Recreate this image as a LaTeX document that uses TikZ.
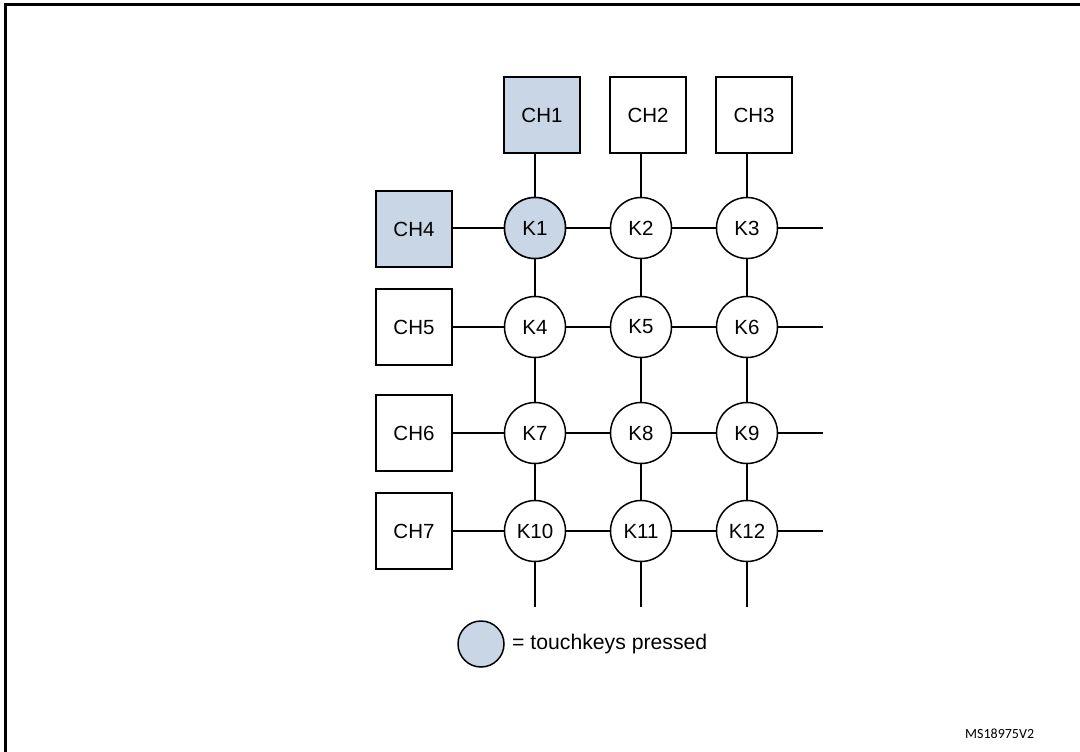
\documentclass[tikz,border=0pt]{standalone}
\usepackage{fontspec}
\setmainfont{Liberation Sans}
\newfontfamily\calib{Carlito}
\definecolor{pressed}{RGB}{201,214,230}
\begin{document}
\begin{tikzpicture}[x=1pt,y=-1pt,
  chbox/.style={draw, line width=1.5pt, minimum size=76pt, inner sep=0pt, font=\fontsize{20.5}{24}\selectfont},
  key/.style={draw, circle, line width=1.5pt, minimum size=61pt, inner sep=0pt, font=\fontsize{20.5}{24}\selectfont},
  wire/.style={line width=1.5pt},
  on/.style={fill=pressed}]
\useasboundingbox (0,0) rectangle (1080,752);
\draw[line width=2.4pt] (5.5,752) -- (5.5,4.5) -- (1080,4.5);
% channel boxes
\node[chbox,on] (CH1) at (542,115) {CH1};
\node[chbox] (CH2) at (648,115) {CH2};
\node[chbox] (CH3) at (754,115) {CH3};
\node[chbox,on] (CH4) at (414,229) {CH4};
\node[chbox] (CH5) at (414,327) {CH5};
\node[chbox] (CH6) at (414,433) {CH6};
\node[chbox] (CH7) at (414,531) {CH7};
% keys
\foreach \r/\y in {0/228,1/327,2/433,3/531}{
  \foreach \c/\x in {1/535,2/641,3/747}{
    \pgfmathtruncatemacro{\k}{3*\r+\c}
    \node[key] (K\k) at (\x,\y) {K\k};
  }
}
\node[key,on] at (K1) {K1};
% stubs
\coordinate (r1) at (823,228);
\coordinate (r2) at (823,327);
\coordinate (r3) at (823,433);
\coordinate (r4) at (823,531);
\coordinate (b1) at (535,607);
\coordinate (b2) at (641,607);
\coordinate (b3) at (747,607);
% wires
\draw[wire] (K1 |- CH1.south) -- (K1);
\draw[wire] (K2 |- CH2.south) -- (K2);
\draw[wire] (K3 |- CH3.south) -- (K3);
\draw[wire] (CH4.east |- K1) -- (K1);
\draw[wire] (CH5) -- (K4);
\draw[wire] (CH6) -- (K7);
\draw[wire] (CH7) -- (K10);
\draw[wire] (K1) -- (K2); \draw[wire] (K2) -- (K3); \draw[wire] (K3) -- (r1);
\draw[wire] (K4) -- (K5); \draw[wire] (K5) -- (K6); \draw[wire] (K6) -- (r2);
\draw[wire] (K7) -- (K8); \draw[wire] (K8) -- (K9); \draw[wire] (K9) -- (r3);
\draw[wire] (K10) -- (K11); \draw[wire] (K11) -- (K12); \draw[wire] (K12) -- (r4);
\draw[wire] (K1) -- (K4); \draw[wire] (K4) -- (K7); \draw[wire] (K7) -- (K10); \draw[wire] (K10) -- (b1);
\draw[wire] (K2) -- (K5); \draw[wire] (K5) -- (K8); \draw[wire] (K8) -- (K11); \draw[wire] (K11) -- (b2);
\draw[wire] (K3) -- (K6); \draw[wire] (K6) -- (K9); \draw[wire] (K9) -- (K12); \draw[wire] (K12) -- (b3);
% legend
\node[draw, circle, line width=1.5pt, minimum size=46pt, inner sep=0pt, on] (L) at (481,644) {};
\node[anchor=west, inner sep=0pt, font=\fontsize{21.2}{24}\selectfont] (Ltxt) at (512,644) {= touchkeys pressed};
\node[anchor=west, inner sep=0pt, font=\calib\fontsize{14}{16}\selectfont] (ms) at (965,734) {MS18975V2};
\end{tikzpicture}
\end{document}
